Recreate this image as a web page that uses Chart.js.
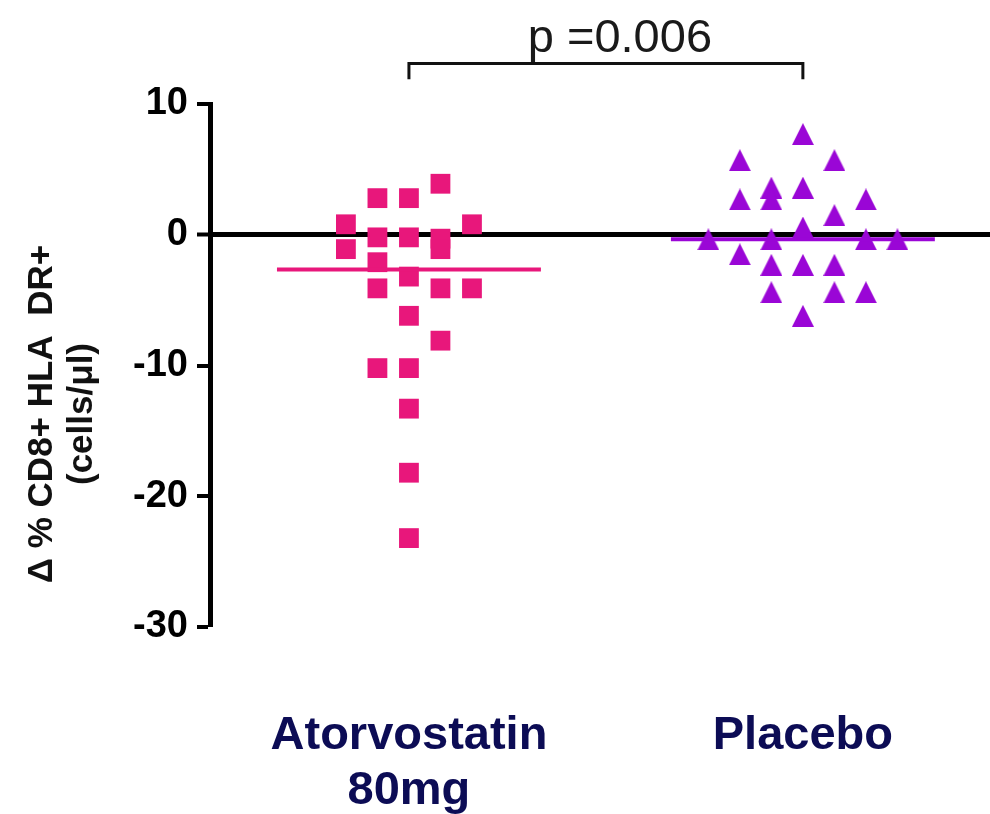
<!DOCTYPE html>
<html>
<head>
<meta charset="utf-8">
<script src="https://cdn.jsdelivr.net/npm/chart.js@4/dist/chart.umd.min.js"></script>
<style>
  html, body { margin: 0; padding: 0; background: #ffffff; }
  #wrap { width: 990px; height: 814px; }
</style>
</head>
<body>
<div id="wrap"><canvas id="chart" width="990" height="814"></canvas></div>
<script>
// Change in % CD8+ HLA-DR+ cells per patient, by treatment group
const groupLabels = [['Atorvostatin', '80mg'], 'Placebo'];

const atorvastatinValues = [3.9, 2.8, 2.8, 0.8, -1.1, 0.8, -0.2, -2.1, -0.2, -3.2, -0.3,
  -1.1, -4.1, -4.1, -4.1, -6.2, -8.1, -10.2, -10.2, -13.3, -18.2, -23.2];
// scatter column of each point inside its group (-3 … 3)
const atorvastatinColumns = [1, -1, 0, -2, -2, 2, -1, -1, 0, 0, 1,
  1, -1, 1, 2, 0, 1, -1, 0, 0, 0, 0];

const placeboValues = [7.7, 5.7, 5.7, 3.6, 2.7, 3.6, 2.7, 2.7, 1.5, 0.55,
  -0.35, -0.35, -0.35, -0.35, -1.5, -2.3, -2.3, -2.3, -4.4, -4.4, -4.4, -6.2];
const placeboColumns = [0, -2, 1, -1, -1, 0, -2, 2, 1, 0,
  -3, -1, 2, 3, -2, -1, 0, 1, -1, 1, 2, 0];

const yTickValues = [10, 0, -10, -20, -30];
const pValueLabel = 'p =0.006';
const yTitleLines = ['\u0394 % CD8+ HLA  DR+', '(cells/\u03bcl)'];

// drawing constants
const COLUMN_STEP = 0.08;
const MEDIAN_HALF_WIDTH = 0.335;
const BRACKET_LEVEL = 13.1;
const BRACKET_DROP = 1.2;
const FONT = '"Liberation Sans", Arial, Helvetica, sans-serif';
const PINK = '#E8177B';
const PURPLE = '#9A06D6';
const NAVY = '#0C0C55';

function median(values) {
  const s = values.slice().sort((a, b) => a - b);
  const m = Math.floor(s.length / 2);
  return s.length % 2 ? s[m] : (s[m - 1] + s[m]) / 2;
}

function toPoints(values, columns, groupX) {
  return values.map((v, i) => ({ x: groupX + columns[i] * COLUMN_STEP, y: v }));
}

function medianSegment(values, groupX) {
  const m = median(values);
  return [{ x: groupX - MEDIAN_HALF_WIDTH, y: m }, { x: groupX + MEDIAN_HALF_WIDTH, y: m }];
}

function triangleMarker(color, w, h) {
  const c = document.createElement('canvas');
  c.width = w; c.height = h;
  const g = c.getContext('2d');
  g.fillStyle = color;
  g.beginPath();
  g.moveTo(w / 2, 0);
  g.lineTo(w, h);
  g.lineTo(0, h);
  g.closePath();
  g.fill();
  return c;
}

const extraText = {
  id: 'extraText',
  afterDraw(chart) {
    const ctx = chart.ctx;
    const xs = chart.scales.x, ys = chart.scales.y;
    ctx.save();
    // p-value above the bracket
    ctx.fillStyle = '#1a1a1a';
    ctx.font = '47px ' + FONT;
    ctx.textAlign = 'center';
    ctx.textBaseline = 'alphabetic';
    const cx = (xs.getPixelForValue(1) + xs.getPixelForValue(2)) / 2 + 14;
    ctx.fillText(pValueLabel, cx, ys.getPixelForValue(BRACKET_LEVEL) - 11);
    // rotated y-axis title, two lines
    ctx.fillStyle = '#111111';
    ctx.font = 'bold 35px ' + FONT;
    ctx.textBaseline = 'middle';
    const centres = [42, 82];
    yTitleLines.forEach((line, i) => {
      ctx.save();
      ctx.translate(centres[i], 414);
      ctx.rotate(-Math.PI / 2);
      ctx.fillText(line, 0, 0);
      ctx.restore();
    });
    ctx.restore();
  }
};

new Chart(document.getElementById('chart'), {
  type: 'scatter',
  data: {
    datasets: [
      {
        data: medianSegment(atorvastatinValues, 1),
        showLine: true, borderColor: PINK, borderWidth: 4, pointRadius: 0
      },
      {
        data: medianSegment(placeboValues, 2),
        showLine: true, borderColor: PURPLE, borderWidth: 4, pointRadius: 0
      },
      {
        data: toPoints(atorvastatinValues, atorvastatinColumns, 1),
        pointStyle: 'rect', pointRadius: 14, pointBorderWidth: 0,
        backgroundColor: PINK, borderColor: PINK
      },
      {
        data: toPoints(placeboValues, placeboColumns, 2),
        pointStyle: triangleMarker(PURPLE, 22, 22), pointBorderWidth: 0,
        backgroundColor: PURPLE, borderColor: PURPLE
      },
      {
        data: [
          { x: 1, y: BRACKET_LEVEL - BRACKET_DROP }, { x: 1, y: BRACKET_LEVEL },
          { x: 2, y: BRACKET_LEVEL }, { x: 2, y: BRACKET_LEVEL - BRACKET_DROP }
        ],
        showLine: true, borderColor: '#111111', borderWidth: 3, pointRadius: 0,
        clip: false
      }
    ]
  },
  options: {
    responsive: false,
    animation: false,
    devicePixelRatio: 1,
    layout: { autoPadding: false, padding: { top: 104, left: 0, right: 0, bottom: 0 } },
    plugins: { legend: { display: false }, tooltip: { enabled: false } },
    scales: {
      x: {
        type: 'linear',
        min: 0.495,
        max: 2.475,
        afterFit(scale) {
          scale.height = 187;
          scale.paddingLeft = 0;
          scale.paddingRight = 0;
        },
        afterBuildTicks(scale) { scale.ticks = [{ value: 1 }, { value: 2 }]; },
        grid: { display: false, drawTicks: false },
        border: { display: false },
        ticks: {
          autoSkip: false,
          maxRotation: 0,
          padding: 81,
          color: NAVY,
          font: { family: FONT, weight: 'bold', size: 47, lineHeight: 1.18 },
          callback: (v) => groupLabels[Math.round(v) - 1]
        }
      },
      y: {
        min: -30,
        max: 10,
        afterFit(scale) { scale.width = 210; },
        afterBuildTicks(scale) { scale.ticks = yTickValues.map(v => ({ value: v })); },
        border: { display: true, color: '#000000', width: 5 },
        grid: {
          drawOnChartArea: true,
          color: (c) => (c.tick && c.tick.value === 0 ? '#000000' : 'rgba(0,0,0,0)'),
          lineWidth: (c) => (c.tick && c.tick.value === 0 ? 5 : 0),
          tickColor: '#000000',
          tickWidth: 4,
          tickLength: 13
        },
        ticks: {
          padding: 9,
          color: '#000000',
          font: { family: FONT, weight: 'bold', size: 38 }
        }
      }
    }
  },
  plugins: [extraText]
});
</script>
</body>
</html>
